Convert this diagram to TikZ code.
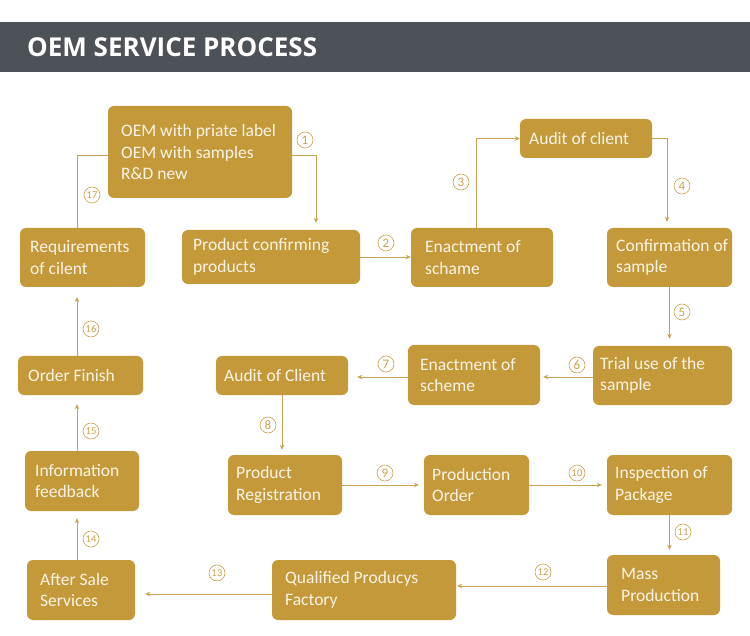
\documentclass[tikz,border=0pt]{standalone}
\usepackage{fontspec}
\setmainfont{Carlito}
\newfontfamily\titlefont{Open Sans}
\usetikzlibrary{arrows.meta}
\definecolor{hdr}{HTML}{4C5258}
\definecolor{gold}{HTML}{C3993A}
\definecolor{lgold}{HTML}{C9A24E}
\definecolor{btxt}{HTML}{FBF4E6}
\tikzset{
  box/.style={fill=gold, rounded corners=6pt, draw=none, inner sep=0pt},
  btext/.style={text=btxt, align=left, inner sep=0pt, font=\fontsize{17.5}{21.5}\selectfont},
  arr/.style={draw=lgold, line width=0.8pt, -{Stealth[length=5pt,width=4.5pt]}},
  ln/.style={draw=lgold, line width=0.8pt},
  num/.style={circle, draw=lgold, line width=0.6pt, minimum size=16pt, inner sep=0pt, text=lgold, font=\fontsize{13}{13}\selectfont},
  numb/.style={num, font=\fontsize{10.5}{10.5}\selectfont}
}
\newcommand\oembox[7]{%
  \pgfmathsetmacro\bw{#4-#2}\pgfmathsetmacro\bh{#5-#3}%
  \node[box, minimum width=\bw pt, minimum height=\bh pt] (#1) at ({(#2+#4)/2},{(#3+#5)/2}) {};
  \node[btext, anchor=west] (#1t) at ({#2+#6},{(#3+#5)/2}) {#7};}
\begin{document}
\begin{tikzpicture}[x=1pt,y=-1pt]
\useasboundingbox (0,0) rectangle (750,636);
\fill[white] (0,0) rectangle (750,636);
\fill[hdr] (0,22) rectangle (750,72);
\node[anchor=base west, inner sep=0pt, text=white, font=\titlefont\bfseries\fontsize{26}{26}\selectfont] (title) at (27,57) {OEM SERVICE PROCESS};

\oembox{oem}{108}{106}{292}{198}{13}{OEM with priate label\\OEM with samples\\R\&D new}
\oembox{req}{20}{228}{145}{287}{10}{Requirements\\of cilent}
\oembox{pcp}{182}{230}{360}{284}{11}{Product confirming\\products}
\oembox{ens}{411}{228}{553}{287}{14}{Enactment of\\schame}
\oembox{aud}{520}{119}{652}{158}{9}{Audit of client}
\oembox{conf}{607}{228}{732}{287}{9}{Confirmation of\\sample}
\oembox{trial}{593}{346}{732}{405}{7}{Trial use of the\\sample}
\oembox{esc}{408}{345}{540}{405}{12}{Enactment of\\scheme}
\oembox{aud2}{216}{356}{348}{395}{8}{Audit of Client}
\oembox{ofin}{18}{356}{143}{395}{10}{Order Finish}
\oembox{info}{25}{451}{139}{511}{10}{Information\\feedback}
\oembox{preg}{228}{455}{342}{515}{8}{Product\\Registration}
\oembox{pord}{424}{455}{529}{515}{8}{Production\\Order}
\oembox{insp}{607}{455}{732}{515}{8}{Inspection of\\Package}
\oembox{mass}{607}{555}{720}{615}{14}{Mass\\Production}
\oembox{qual}{272}{560}{456}{620}{13}{Qualified Producys\\Factory}
\oembox{after}{27}{560}{135}{620}{13}{After Sale\\Services}

% connectors
\draw[arr, shorten >=7pt] ([yshift=-3pt]oem.east) -| ([xshift=45pt]pcp.north);
\draw[arr] (pcp.east) -- (pcp.east -| ens.west);
\draw[arr] ([xshift=-6pt]ens.north) |- (aud.west);
\draw[arr, shorten >=6pt] (aud.east) -| ([xshift=-2.5pt]conf.north);
\draw[arr, shorten >=7pt] (conf.south) -- (conf.south |- trial.north);
\draw[arr, shorten >=3pt] ([yshift=-1.5pt]trial.west) -- ([yshift=-1.5pt]trial.west -| esc.east);
\draw[arr, shorten >=9pt] ([yshift=-2pt]esc.west) -- ([yshift=-2pt]esc.west -| aud2.east);
\draw[arr, shorten >=5pt] (aud2.south) -- (aud2.south |- preg.north);
\draw[arr, shorten >=5pt] (preg.east) -- (pord.west);
\draw[arr, shorten >=5pt] (pord.east) -- (insp.west);
\draw[arr, shorten >=5pt] (insp.south) -- (insp.south |- mass.north);
\draw[arr, shorten >=1pt] ([yshift=-1pt]mass.west) -- ([yshift=-1pt]mass.west -| qual.east);
\draw[arr, shorten >=10pt] ([yshift=-4pt]qual.west) -- ([yshift=-4pt]qual.west -| after.east);
\draw[arr, shorten >=7pt] ([xshift=-4pt]after.north) -- ([xshift=-4pt]after.north |- info.south);
\draw[arr, shorten >=9pt] ([xshift=-5pt]info.north) -- ([xshift=-5pt]info.north |- ofin.south);
\draw[arr, shorten >=10pt] ([xshift=-3.5pt]ofin.north) -- ([xshift=-3.5pt]ofin.north |- req.south);
\draw[ln] ([xshift=-5.5pt]req.north) |- ([yshift=-3pt]oem.west);

% step numbers
\node[num] (n1) at (305,140) {1};
\node[num] (n2) at (386,243) {2};
\node[num] (n3) at (461,182) {3};
\node[num] (n4) at (682,186) {4};
\node[num] (n5) at (682,312) {5};
\node[num] (n6) at (577,365) {6};
\node[num] (n7) at (386,364) {7};
\node[num] (n8) at (268,425) {8};
\node[num] (n9) at (385,473) {9};
\node[numb] (n10) at (577,473) {10};
\node[numb] (n11) at (683,532) {11};
\node[numb] (n12) at (543,572) {12};
\node[numb] (n13) at (217,573) {13};
\node[numb] (n14) at (91,539) {14};
\node[numb] (n15) at (91,431) {15};
\node[numb] (n16) at (91,329) {16};
\node[numb] (n17) at (92,195) {17};
\end{tikzpicture}
\end{document}
